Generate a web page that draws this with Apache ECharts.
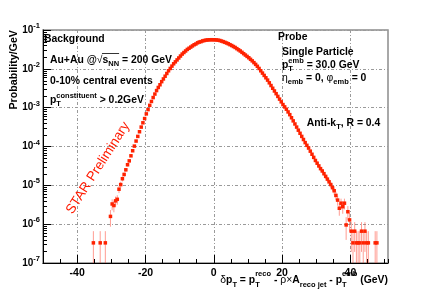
<!DOCTYPE html>
<html><head><meta charset="utf-8">
<script src="https://cdn.jsdelivr.net/npm/echarts@6/dist/echarts.min.js"></script>
<style>html,body{margin:0;padding:0;background:#fff}#c{width:432px;height:293px}</style>
</head><body><div id="c"></div>
<script>
// ---------------- data ----------------
// histogram bins are 0.5 GeV wide; values are log10(Probability/GeV)
const binWidth = 0.5;
const leftStart = -30.25;   // centre of first bin of leftLog10
const leftLog10 = [
  -5.80,-5.48,-5.52,-5.40,-5.36,-5.10,-4.98,-4.83,-4.72,-4.60,
  -4.47,-4.37,-4.24,-4.11,-3.99,-3.86,-3.74,-3.62,-3.50,-3.39,
  -3.28,-3.16,-3.05,-2.94,-2.84,-2.74,-2.65,-2.56,-2.48,-2.41,
  -2.33,-2.26,-2.19,-2.12,-2.05,-1.99,-1.93,-1.87,-1.82,-1.77,
  -1.72,-1.67,-1.62,-1.58,-1.54,-1.50,-1.47,-1.44,-1.41,-1.38,
  -1.36,-1.33,-1.31,-1.30,-1.28,-1.27,-1.26,-1.256,-1.252,-1.25,
  -1.251
];
const rightStart = 0.25;    // centre of first bin of rightLog10
const rightLog10 = [
  -1.252,-1.256,-1.262,-1.27,-1.285,-1.30,-1.317,-1.335,-1.355,-1.378,
  -1.40,-1.425,-1.45,-1.48,-1.51,-1.54,-1.575,-1.61,-1.645,-1.68,
  -1.715,-1.755,-1.795,-1.84,-1.885,-1.935,-1.99,-2.05,-2.11,-2.17,
  -2.23,-2.29,-2.36,-2.43,-2.50,-2.57,-2.64,-2.71,-2.78,-2.85,
  -2.92,-2.98,-3.04,-3.11,-3.18,-3.26,-3.34,-3.42,-3.50,-3.58,
  -3.66,-3.74,-3.82,-3.90,-3.97,-4.04,-4.12,-4.20,-4.28,-4.36,
  -4.43,-4.50,-4.57,-4.63,-4.70,-4.77,-4.84,-4.91,-4.98,-5.06,
  -5.14,-5.26,-5.38,-5.59,-5.46,-5.55,-5.46,-6.02,-5.68,-5.89
];
// isolated tail bins: few entries each (1 entry = countUnit)
const countUnit = 3.3e-7;
const tailX      = [-35.25,-33.25,-31.75, 40.25,40.75,41.25,41.75,42.25,42.75,43.25,43.75,44.25,44.75,45.25, 47.25,47.75];
const tailCounts = [1,1,1, 2,1,2,1,1,1,2,1,2,1,1, 1,1];

const xTickValues = [-40,-20,0,20,40];
const yTickPowers = [-7,-6,-5,-4,-3,-2,-1];

// ---------------- styling ----------------
const FONT = '"Liberation Sans", Arial, Helvetica, sans-serif';
const RED = '#ff2200';
const ERR = 'rgba(255,60,40,0.5)';
const YMIN = Math.pow(10, yTickPowers[0]);
const YMAX = Math.pow(10, yTickPowers[yTickPowers.length-1]);

function point(x, y) {
  const e = Math.sqrt(y / countUnit) * countUnit;
  return [x, y, Math.max(y - e, YMIN), y + e];
}
const data = [];
leftLog10.forEach((v, i) => data.push(point(leftStart + i * binWidth, Math.pow(10, v))));
rightLog10.forEach((v, i) => data.push(point(rightStart + i * binWidth, Math.pow(10, v))));
tailX.forEach((x, i) => data.push(point(x, tailCounts[i] * countUnit)));

const chart = echarts.init(document.getElementById('c'), null, {renderer: 'canvas'});

const axisText = {fontFamily: FONT, fontWeight: 'bold', color: '#000'};
chart.setOption({
  animation: false,
  backgroundColor: '#fff',
  grid: {left: 43, top: 30, right: 44, bottom: 30, show: true, borderColor: '#8c8c8c', borderWidth: 1.5, backgroundColor: 'transparent'},
  xAxis: [{
    type: 'value', min: -50, max: 51,
    axisLine: {show: true, onZero: false, lineStyle: {color: '#000', width: 1}},
    axisTick: {show: true, inside: true, length: 8, customValues: xTickValues, lineStyle: {color: '#000'}},
    axisLabel: Object.assign({customValues: xTickValues, margin: 5, fontSize: 10.5}, axisText),
    splitLine: {show: true, lineStyle: {type: [3, 2, 1, 2], color: '#9a9a9a', width: 1}}
  }, {
    type: 'value', min: -50, max: 51, interval: 5, position: 'bottom',
    axisLine: {show: false, onZero: false},
    axisTick: {show: true, inside: true, length: 4, lineStyle: {color: '#000'}},
    axisLabel: {show: false}, splitLine: {show: false}
  }],
  yAxis: {
    type: 'log', logBase: 10, min: YMIN, max: YMAX,
    axisLine: {show: true, onZero: false, lineStyle: {color: '#000', width: 1}},
    axisTick: {show: true, inside: true, length: 8, lineStyle: {color: '#000'}},
    axisLabel: {
      margin: 3,
      formatter: v => {
        const p = yTickPowers.find(k => Math.abs(Math.log10(v) - k) < 1e-6);
        return p === undefined ? '' : '{b|10}{s|' + p + '}';
      },
      rich: {
        b: {fontSize: 10, fontWeight: 'bold', fontFamily: FONT, color: '#000', lineHeight: 16},
        s: {fontSize: 7.5, fontWeight: 'bold', fontFamily: FONT, color: '#000', verticalAlign: 'top'}
      }
    },
    splitLine: {show: true, lineStyle: {type: [3, 2, 1, 2], color: '#9a9a9a', width: 1}}
  },
  series: [{
    type: 'custom', xAxisIndex: 0, yAxisIndex: 0, clip: true, z: 5,
    data: data,
    renderItem: (params, api) => {
      const x = api.value(0), y = api.value(1);
      const p = api.coord([x, y]);
      const lo = api.coord([x, api.value(2)]);
      const hi = api.coord([x, api.value(3)]);
      return {type: 'group', children: [
        {type: 'line', shape: {x1: p[0], y1: lo[1], x2: p[0], y2: hi[1]}, style: {stroke: ERR, lineWidth: 1}},
        {type: 'rect', shape: {x: p[0] - 1.75, y: p[1] - 1.75, width: 3.5, height: 3.5}, style: {fill: RED}}
      ]};
    }
  }]
});

// ---------------- text helpers ----------------
const mctx = document.createElement('canvas').getContext('2d');
function tw(text, size, weight) { mctx.font = weight + ' ' + size + 'px ' + FONT; return mctx.measureText(text).width; }
function mathText(x, y, segs, o) {
  o = Object.assign({size: 10.4, small: 7.5, color: '#000', align: 'left', supDy: -4, subDy: 4}, o || {});
  const parts = []; let cx = 0;
  segs.forEach(s => {
    const w = s.normal ? 'normal' : 'bold';
    if (s.t) { parts.push({text: s.t, x: cx, dy: 0, size: o.size, w}); cx += tw(s.t, o.size, w); }
    let sw = 0;
    if (s.sup) { parts.push({text: s.sup, x: cx, dy: o.supDy, size: o.small, w: 'bold'}); sw = Math.max(sw, tw(s.sup, o.small, 'bold')); }
    if (s.sub) { parts.push({text: s.sub, x: cx, dy: o.subDy, size: o.small, w: 'bold'}); sw = Math.max(sw, tw(s.sub, o.small, 'bold')); }
    cx += sw;
  });
  const x0 = o.align === 'right' ? x - cx : x;
  return parts.map(p => ({type: 'text', silent: true, z: 100, x: x0 + p.x, y: y + p.dy,
    style: {text: p.text, fontSize: p.size, fontWeight: p.w, fontFamily: FONT, fill: o.color, align: 'left', verticalAlign: 'middle'}}));
}

const g = [];
// y minor ticks (log 2..9) placed through the axis scale
const gx = chart.convertToPixel({xAxisIndex: 0}, -50);
for (let p = yTickPowers[0]; p < yTickPowers[yTickPowers.length - 1]; p++) {
  for (let m = 2; m <= 9; m++) {
    const py = Math.round(chart.convertToPixel({yAxisIndex: 0}, m * Math.pow(10, p))) + 0.5;
    g.push({type: 'line', silent: true, z: 50, shape: {x1: gx, y1: py, x2: gx + 4, y2: py}, style: {stroke: '#000', lineWidth: 1}});
  }
}
// left block
g.push(...mathText(44, 39, [{t: 'Background'}]));
g.push(...mathText(50, 60, [{t: 'Au+Au @'}, {t: '√', normal: true}, {t: 's', sub: 'NN'}, {t: ' = 200 GeV'}]));
{ // overline of the square root
  const sx = 50 + tw('Au+Au @', 10.4, 'bold') + tw('√', 10.4, 'normal') - 0.5;
  const sw = tw('s', 10.4, 'bold') + tw('NN', 7.5, 'bold') + 0.5;
  g.push({type: 'line', silent: true, z: 100, shape: {x1: sx, y1: 53.5, x2: sx + sw, y2: 53.5}, style: {stroke: '#000', lineWidth: 0.8}});
}
g.push(...mathText(50, 81, [{t: '0-10% central events'}]));
g.push(...mathText(50, 100, [{t: 'p', sub: 'T', sup: 'constituent'}, {t: ' > 0.2GeV'}]));
// right block
g.push(...mathText(278, 37, [{t: 'Probe'}]));
g.push(...mathText(282, 51.7, [{t: 'Single Particle'}]));
g.push(...mathText(282, 65, [{t: 'p', sub: 'T', sup: 'emb'}, {t: ' = 30.0 GeV'}]));
g.push(...mathText(282, 78.3, [{t: 'η', normal: true, sub: 'emb'}, {t: ' = 0, '}, {t: 'φ', normal: true, sub: 'emb'}, {t: ' = 0'}]));
g.push(...mathText(306.7, 123.3, [{t: 'Anti-k', sub: 'T'}, {t: ', R = 0.4'}]));
// x axis title
g.push(...mathText(388, 280, [{t: 'δ', normal: true}, {t: 'p', sub: 'T'}, {t: ' = p', sub: 'T', sup: 'reco'}, {t: ' - '},
  {t: 'ρ×', normal: true}, {t: 'A', sub: 'reco jet'}, {t: ' - p', sub: 'T', sup: 'emb'}, {t: ' (GeV)'}],
  {align: 'right', supDy: -6, subDy: 5}));
// y axis title
g.push({type: 'text', silent: true, z: 100, x: 14, y: 30, rotation: Math.PI / 2,
  style: {text: 'Probability/GeV', fontSize: 10.7, fontWeight: 'bold', fontFamily: FONT, fill: '#000', align: 'right', verticalAlign: 'middle'}});
// STAR Preliminary
g.push({type: 'text', silent: true, z: 100, x: 98, y: 168, rotation: 1.0,
  style: {text: 'STAR Preliminary', fontSize: 13.5, fontWeight: 'normal', fontFamily: FONT, fill: '#ff1a00', align: 'center', verticalAlign: 'middle'}});

chart.setOption({graphic: g});
</script></body></html>
